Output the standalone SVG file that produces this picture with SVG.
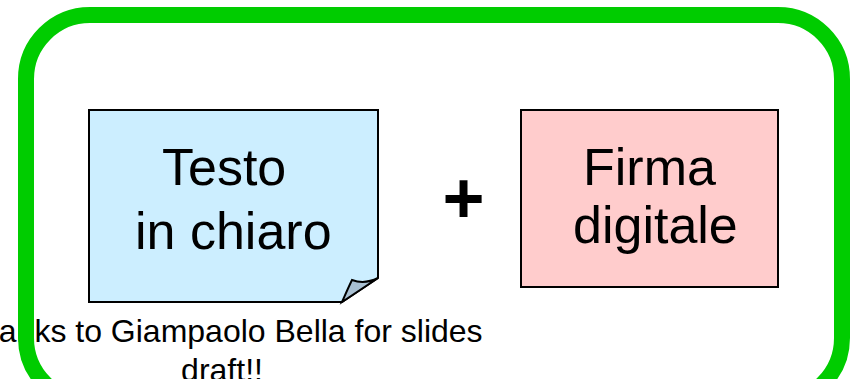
<svg xmlns="http://www.w3.org/2000/svg" width="861" height="379" viewBox="0 0 861 379">
  <style>
    .lbl { font-family: "Liberation Sans", Arial, sans-serif; fill: #000; }
    .big { font-size: 52px; }
    .note-edge { stroke: #000; stroke-width: 2; stroke-linejoin: miter; }
  </style>
  <rect width="861" height="379" fill="#fff"/>

  <!-- caption under the note -->
  <g id="credit">
    <text class="lbl" x="222" y="342" font-size="32" text-anchor="middle">Thanks to Giampaolo Bella for slides</text>
    <text class="lbl" x="222" y="381" font-size="32" text-anchor="middle">draft!!</text>
  </g>

  <!-- note with folded corner -->
  <g id="plain-text">
    <path class="note-edge" d="M89,110 H378 V278 L342,302 H89 Z" fill="#cceeff"/>
    <path class="note-edge" d="M342,302 C346,293 349,286 352,280 C360,283 370,282 378,278 Z" fill="#a9c0d2" stroke-width="1.5"/>
    <text class="lbl big" x="162" y="185">Testo</text>
    <text class="lbl big" x="135" y="249">in chiaro</text>
  </g>

  <g id="plus">
    <text class="lbl" x="463.5" y="223" font-size="72" font-weight="bold" text-anchor="middle">+</text>
  </g>

  <g id="signature">
    <rect x="521" y="110" width="257" height="177" fill="#ffcccc" stroke="#000" stroke-width="2"/>
    <text class="lbl big" x="583" y="185">Firma</text>
    <text class="lbl big" x="573" y="243">digitale</text>
  </g>

  <!-- green rounded frame, bottom runs past the canvas -->
  <g id="connectors">
    <rect x="26" y="15" width="816" height="387" rx="64" ry="64" fill="none" stroke="#00cc00" stroke-width="16"/>
  </g>
</svg>
